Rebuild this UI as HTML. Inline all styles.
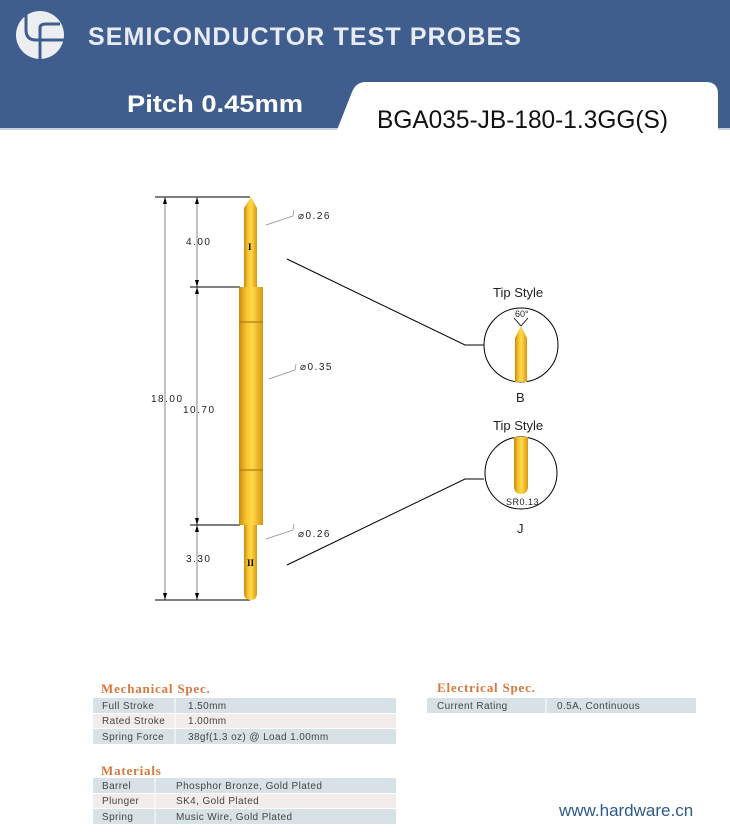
<!DOCTYPE html>
<html><head><meta charset="utf-8"><style>
body{margin:0;width:730px;height:834px;background:#fff;overflow:hidden;font-family:"Liberation Sans",sans-serif}
</style></head><body>
<svg width="730" height="834" viewBox="0 0 730 834" xmlns="http://www.w3.org/2000/svg" font-family="Liberation Sans, sans-serif">
<defs>
<linearGradient id="g" x1="0" x2="1" y1="0" y2="0">
<stop offset="0" stop-color="#c98a0c"/><stop offset="0.3" stop-color="#f6c531"/><stop offset="0.55" stop-color="#ffd94a"/><stop offset="1" stop-color="#d7960f"/>
</linearGradient>
</defs>
<rect x="0" y="0" width="730" height="129" fill="#3f5e8e"/>
<rect x="0" y="128" width="730" height="2" fill="#c8d0dc"/>
<path d="M337 130 L352 92 Q356 82 366 82 L706 82 Q718 82 718 94 L718 130 Z" fill="#fff"/>
<circle cx="40" cy="35" r="24" fill="#eceef2"/>
<path d="M26 14 L26 30 Q26 40 36 40 L64 40 M40 60 L40 40 M40 40 L40 28 Q40 24 46 24 L60 24" stroke="#3f5e8e" stroke-width="3" fill="none"/>
<text x="88" y="45" font-size="25" font-weight="bold" fill="#e8ecf2" letter-spacing="1.1">SEMICONDUCTOR TEST PROBES</text>
<text x="127" y="112" font-size="24" font-weight="bold" fill="#fff" textLength="176" lengthAdjust="spacingAndGlyphs">Pitch 0.45mm</text>
<text x="377" y="128" font-size="25" fill="#111" textLength="291" lengthAdjust="spacingAndGlyphs">BGA035-JB-180-1.3GG(S)</text>

<g stroke="#000" stroke-width="1">
<line x1="155" y1="197" x2="250" y2="197"/><line x1="155" y1="600" x2="250" y2="600"/>
<line x1="190" y1="287" x2="240" y2="287"/><line x1="190" y1="525" x2="240" y2="525"/>
</g>
<g stroke="#333" stroke-width="0.6">
<line x1="165" y1="197" x2="165" y2="600"/>
<line x1="197" y1="197" x2="197" y2="287"/>
<line x1="197" y1="287" x2="197" y2="525"/>
<line x1="197" y1="525" x2="197" y2="600"/>
</g>
<g fill="#000">
<path d="M165 197 l-2 7 h4z"/><path d="M165 600 l-2 -7 h4z"/>
<path d="M197 197 l-2 7 h4z"/><path d="M197 287 l-2 -7 h4z"/>
<path d="M197 287 l-2 7 h4z"/><path d="M197 525 l-2 -7 h4z"/>
<path d="M197 525 l-2 7 h4z"/><path d="M197 600 l-2 -7 h4z"/>
</g>
<g font-size="10" fill="#222" letter-spacing="1.5">
<text x="186" y="245">4.00</text>
<text x="151" y="402">18.00</text>
<text x="183" y="413">10.70</text>
<text x="186" y="562">3.30</text>
</g>
<path d="M244 208 L251 197 L257 208 L257 290 L244 290 Z" fill="url(#g)"/>
<rect x="239" y="287" width="24" height="238" fill="url(#g)"/>
<line x1="239" y1="322" x2="263" y2="322" stroke="#b57b08" stroke-width="1.2"/>
<line x1="239" y1="470" x2="263" y2="470" stroke="#b57b08" stroke-width="1.2"/>
<path d="M244 525 L257 525 L257 593 Q257 600 250.5 600 Q244 600 244 593 Z" fill="url(#g)"/>
<text x="248" y="250" font-size="9" font-family="Liberation Serif, serif" font-weight="bold">I</text>
<text x="247" y="566" font-size="9" font-family="Liberation Serif, serif" font-weight="bold">II</text>
<g stroke="#888" stroke-width="0.7" fill="none">
<polyline points="266,225 293,216 294,210"/>
<polyline points="269,379 295,370 296,364"/>
<polyline points="266,539 293,530 294,524"/>
</g>
<g font-size="10" fill="#222" letter-spacing="1.5">
<text x="298" y="219">⌀0.26</text>
<text x="300" y="370">⌀0.35</text>
<text x="298" y="537">⌀0.26</text>
</g>
<g stroke="#000" stroke-width="1" fill="none">
<polyline points="287,259 465,345 484,345"/>
<polyline points="287,565 465,479 484,479"/>
<circle cx="521" cy="345" r="37"/>
<circle cx="521" cy="473" r="36"/>
</g>
<text x="493" y="297" font-size="13" fill="#222">Tip Style</text>
<text x="493" y="430" font-size="13" fill="#222">Tip Style</text>
<path d="M515 338 L521 326 L527 338 L527 382 L515 382 Z" fill="url(#g)"/>
<g stroke="#000" stroke-width="0.8"><line x1="521" y1="326" x2="514" y2="318"/><line x1="521" y1="326" x2="528" y2="318"/></g>
<text x="515" y="317" font-size="9" fill="#222">60°</text>
<path d="M514 437 L528 437 L528 486 Q528 494 521 494 Q514 494 514 486 Z" fill="url(#g)"/>
<text x="506" y="505" font-size="9" fill="#222" letter-spacing="0.5">SR0.13</text>
<text x="516" y="402" font-size="13" fill="#222">B</text>
<text x="517" y="533" font-size="13" fill="#222">J</text>

<g font-family="Liberation Serif, serif" font-weight="bold" font-size="13" fill="#d9773d" letter-spacing="0.8">
<text x="101" y="693">Mechanical Spec.</text>
<text x="437" y="692">Electrical Spec.</text>
<text x="101" y="775">Materials</text>
</g>
<g>
<rect x="93" y="698" width="303" height="15" fill="#d8e2e6"/>
<rect x="93" y="714" width="303" height="14" fill="#f2ecea"/>
<rect x="93" y="729" width="303" height="15" fill="#d8e2e6"/>
<rect x="93" y="778" width="303" height="15" fill="#d8e2e6"/>
<rect x="93" y="794" width="303" height="14" fill="#f2ecea"/>
<rect x="93" y="809" width="303" height="15" fill="#d8e2e6"/>
<rect x="427" y="698" width="269" height="15" fill="#d8e2e6"/>
<g stroke="#fff" stroke-width="1"><line x1="175" y1="698" x2="175" y2="744"/><line x1="155" y1="778" x2="155" y2="824"/><line x1="546" y1="698" x2="546" y2="713"/></g>
</g>
<g font-size="10" fill="#444" letter-spacing="0.4">
<text x="102" y="709">Full Stroke</text><text x="188" y="709">1.50mm</text>
<text x="102" y="724">Rated Stroke</text><text x="188" y="724">1.00mm</text>
<text x="102" y="740">Spring Force</text><text x="188" y="740">38gf(1.3 oz) @ Load 1.00mm</text>
<text x="102" y="789">Barrel</text><text x="176" y="789">Phosphor Bronze, Gold Plated</text>
<text x="102" y="804">Plunger</text><text x="176" y="804">SK4, Gold Plated</text>
<text x="102" y="820">Spring</text><text x="176" y="820">Music Wire, Gold Plated</text>
<text x="437" y="709">Current Rating</text><text x="557" y="709">0.5A, Continuous</text>
</g>
<text x="559" y="816" font-size="17" fill="#2b5a8a">www.hardware.cn</text>
</svg>
</body></html>
